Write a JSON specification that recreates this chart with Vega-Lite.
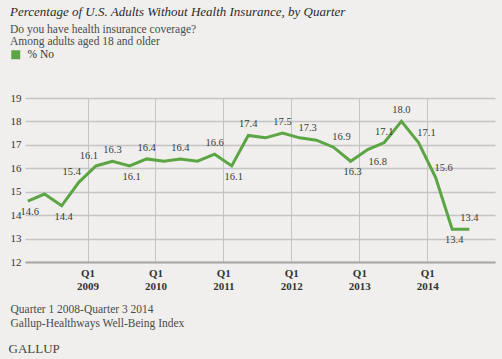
{
  "$schema": "https://vega.github.io/schema/vega-lite/v6.json",
  "width": 470,
  "height": 164,
  "autosize": {"type": "none"},
  "padding": {"left": 25, "top": 98, "right": 7, "bottom": 97},
  "background": "#f0efed",
  "title": {
    "text": "Percentage of U.S. Adults Without Health Insurance, by Quarter",
    "subtitle": ["Do you have health insurance coverage?", "Among adults aged 18 and older"],
    "anchor": "start",
    "frame": "group",
    "dx": -15,
    "offset": 2,
    "font": "Liberation Serif",
    "fontSize": 13,
    "fontStyle": "italic",
    "fontWeight": "normal",
    "color": "#2b2b2b",
    "subtitleFont": "Liberation Serif",
    "subtitleFontSize": 11.5,
    "subtitleColor": "#4a4a4a",
    "subtitlePadding": 5,
    "subtitleLineHeight": 12
  },
  "data": {
    "values": [
      {"quarter": "2008-Q1", "date": "2008/02/15", "pct": 14.6},
      {"quarter": "2008-Q2", "date": "2008/05/15", "pct": 14.9},
      {"quarter": "2008-Q3", "date": "2008/08/15", "pct": 14.4},
      {"quarter": "2008-Q4", "date": "2008/11/15", "pct": 15.4},
      {"quarter": "2009-Q1", "date": "2009/02/15", "pct": 16.1},
      {"quarter": "2009-Q2", "date": "2009/05/15", "pct": 16.3},
      {"quarter": "2009-Q3", "date": "2009/08/15", "pct": 16.1},
      {"quarter": "2009-Q4", "date": "2009/11/15", "pct": 16.4},
      {"quarter": "2010-Q1", "date": "2010/02/15", "pct": 16.3},
      {"quarter": "2010-Q2", "date": "2010/05/15", "pct": 16.4},
      {"quarter": "2010-Q3", "date": "2010/08/15", "pct": 16.3},
      {"quarter": "2010-Q4", "date": "2010/11/15", "pct": 16.6},
      {"quarter": "2011-Q1", "date": "2011/02/15", "pct": 16.1},
      {"quarter": "2011-Q2", "date": "2011/05/15", "pct": 17.4},
      {"quarter": "2011-Q3", "date": "2011/08/15", "pct": 17.3},
      {"quarter": "2011-Q4", "date": "2011/11/15", "pct": 17.5},
      {"quarter": "2012-Q1", "date": "2012/02/15", "pct": 17.3},
      {"quarter": "2012-Q2", "date": "2012/05/15", "pct": 17.2},
      {"quarter": "2012-Q3", "date": "2012/08/15", "pct": 16.9},
      {"quarter": "2012-Q4", "date": "2012/11/15", "pct": 16.3},
      {"quarter": "2013-Q1", "date": "2013/02/15", "pct": 16.8},
      {"quarter": "2013-Q2", "date": "2013/05/15", "pct": 17.1},
      {"quarter": "2013-Q3", "date": "2013/08/15", "pct": 18.0},
      {"quarter": "2013-Q4", "date": "2013/11/15", "pct": 17.1},
      {"quarter": "2014-Q1", "date": "2014/02/15", "pct": 15.6},
      {"quarter": "2014-Q2", "date": "2014/05/15", "pct": 13.4},
      {"quarter": "2014-Q3", "date": "2014/08/15", "pct": 13.4}
    ]
  },
  "encoding": {
    "x": {
      "field": "date",
      "type": "temporal",
      "scale": {"domain": [{"year": 2008, "month": 1, "date": 31}, {"year": 2014, "month": 12, "date": 31}]},
      "axis": {
        "values": [
          {"year": 2009, "month": 1, "date": 1},
          {"year": 2010, "month": 1, "date": 1},
          {"year": 2011, "month": 1, "date": 1},
          {"year": 2012, "month": 1, "date": 1},
          {"year": 2013, "month": 1, "date": 1},
          {"year": 2014, "month": 1, "date": 1}
        ],
        "labelExpr": "['Q1', timeFormat(datum.value, '%Y')]",
        "labelFont": "Liberation Serif",
        "labelFontSize": 11,
        "labelFontWeight": "bold",
        "labelColor": "#333333",
        "labelLineHeight": 13.3,
        "labelPadding": 5,
        "labelBaseline": "top",
        "ticks": false,
        "domain": true,
        "domainColor": "#a8a8a8",
        "domainWidth": 2,
        "grid": true,
        "gridColor": "#c4c4c4",
        "gridWidth": 1,
        "title": ["Quarter 1 2008-Quarter 3 2014", "Gallup-Healthways Well-Being Index"],
        "titleX": -15,
        "titleY": 41,
        "titleAlign": "left",
        "titleAnchor": "start",
        "titleBaseline": "top",
        "titleFont": "Liberation Serif",
        "titleFontSize": 11.5,
        "titleFontWeight": "normal",
        "titleColor": "#4a4a4a",
        "titleLineHeight": 14.7
      }
    },
    "y": {
      "field": "pct",
      "type": "quantitative",
      "scale": {"domain": [12, 19], "nice": false, "zero": false},
      "axis": {
        "values": [12, 13, 14, 15, 16, 17, 18, 19],
        "labelFont": "Liberation Serif",
        "labelFontSize": 11,
        "labelColor": "#333333",
        "labelPadding": 4,
        "ticks": false,
        "domain": false,
        "grid": true,
        "gridColor": "#c4c4c4",
        "gridWidth": 1.5,
        "title": "GALLUP",
        "titleAngle": 0,
        "titleX": -17,
        "titleY": 250,
        "titleAlign": "left",
        "titleBaseline": "middle",
        "titleFont": "Liberation Serif",
        "titleFontSize": 13,
        "titleFontWeight": "normal",
        "titleColor": "#444444"
      }
    }
  },
  "layer": [
    {
      "mark": {"type": "line", "strokeWidth": 3, "strokeJoin": "miter"},
      "encoding": {
        "color": {
          "datum": "% No",
          "scale": {"range": ["#5ca544"]},
          "legend": {
            "title": null,
            "orient": "none",
            "legendX": -15,
            "legendY": -49,
            "symbolType": "square",
            "symbolSize": 80,
            "labelFont": "Liberation Serif",
            "labelFontSize": 11.5,
            "labelColor": "#333333",
            "labelOffset": 6,
            "encode": {"symbols": {"update": {"fill": {"value": "#5ca544"}, "stroke": {"value": "#5ca544"}, "strokeWidth": {"value": 0}}}}
          }
        }
      }
    },
    {
      "transform": [{"filter": {"field": "quarter", "oneOf": ["2009-Q2", "2009-Q4", "2010-Q2", "2010-Q4", "2011-Q2", "2011-Q4", "2013-Q2", "2013-Q3", "2014-Q3"]}}],
      "mark": {"type": "text", "dy": -11, "font": "Liberation Serif", "fontSize": 10.5, "color": "#3a3a3a", "baseline": "middle"},
      "encoding": {"text": {"field": "pct", "type": "quantitative", "format": ".1f"}}
    },
    {
      "transform": [{"filter": {"field": "quarter", "oneOf": ["2008-Q1", "2008-Q3", "2009-Q3", "2011-Q1", "2012-Q4", "2014-Q2"]}}],
      "mark": {"type": "text", "dy": 11, "dx": 2, "font": "Liberation Serif", "fontSize": 10.5, "color": "#3a3a3a", "baseline": "middle"},
      "encoding": {"text": {"field": "pct", "type": "quantitative", "format": ".1f"}}
    },
    {
      "transform": [{"filter": {"field": "quarter", "oneOf": ["2012-Q1", "2012-Q3", "2013-Q4", "2014-Q1"]}}],
      "mark": {"type": "text", "dy": -10, "dx": 8, "font": "Liberation Serif", "fontSize": 10.5, "color": "#3a3a3a", "baseline": "middle"},
      "encoding": {"text": {"field": "pct", "type": "quantitative", "format": ".1f"}}
    },
    {
      "transform": [{"filter": {"field": "quarter", "oneOf": ["2008-Q4", "2009-Q1"]}}],
      "mark": {"type": "text", "dy": -10, "dx": -7, "font": "Liberation Serif", "fontSize": 10.5, "color": "#3a3a3a", "baseline": "middle"},
      "encoding": {"text": {"field": "pct", "type": "quantitative", "format": ".1f"}}
    },
    {
      "transform": [{"filter": {"field": "quarter", "oneOf": ["2013-Q1"]}}],
      "mark": {"type": "text", "dy": 12, "dx": 10, "font": "Liberation Serif", "fontSize": 10.5, "color": "#3a3a3a", "baseline": "middle"},
      "encoding": {"text": {"field": "pct", "type": "quantitative", "format": ".1f"}}
    }
  ],
  "config": {"view": {"stroke": null}}
}
